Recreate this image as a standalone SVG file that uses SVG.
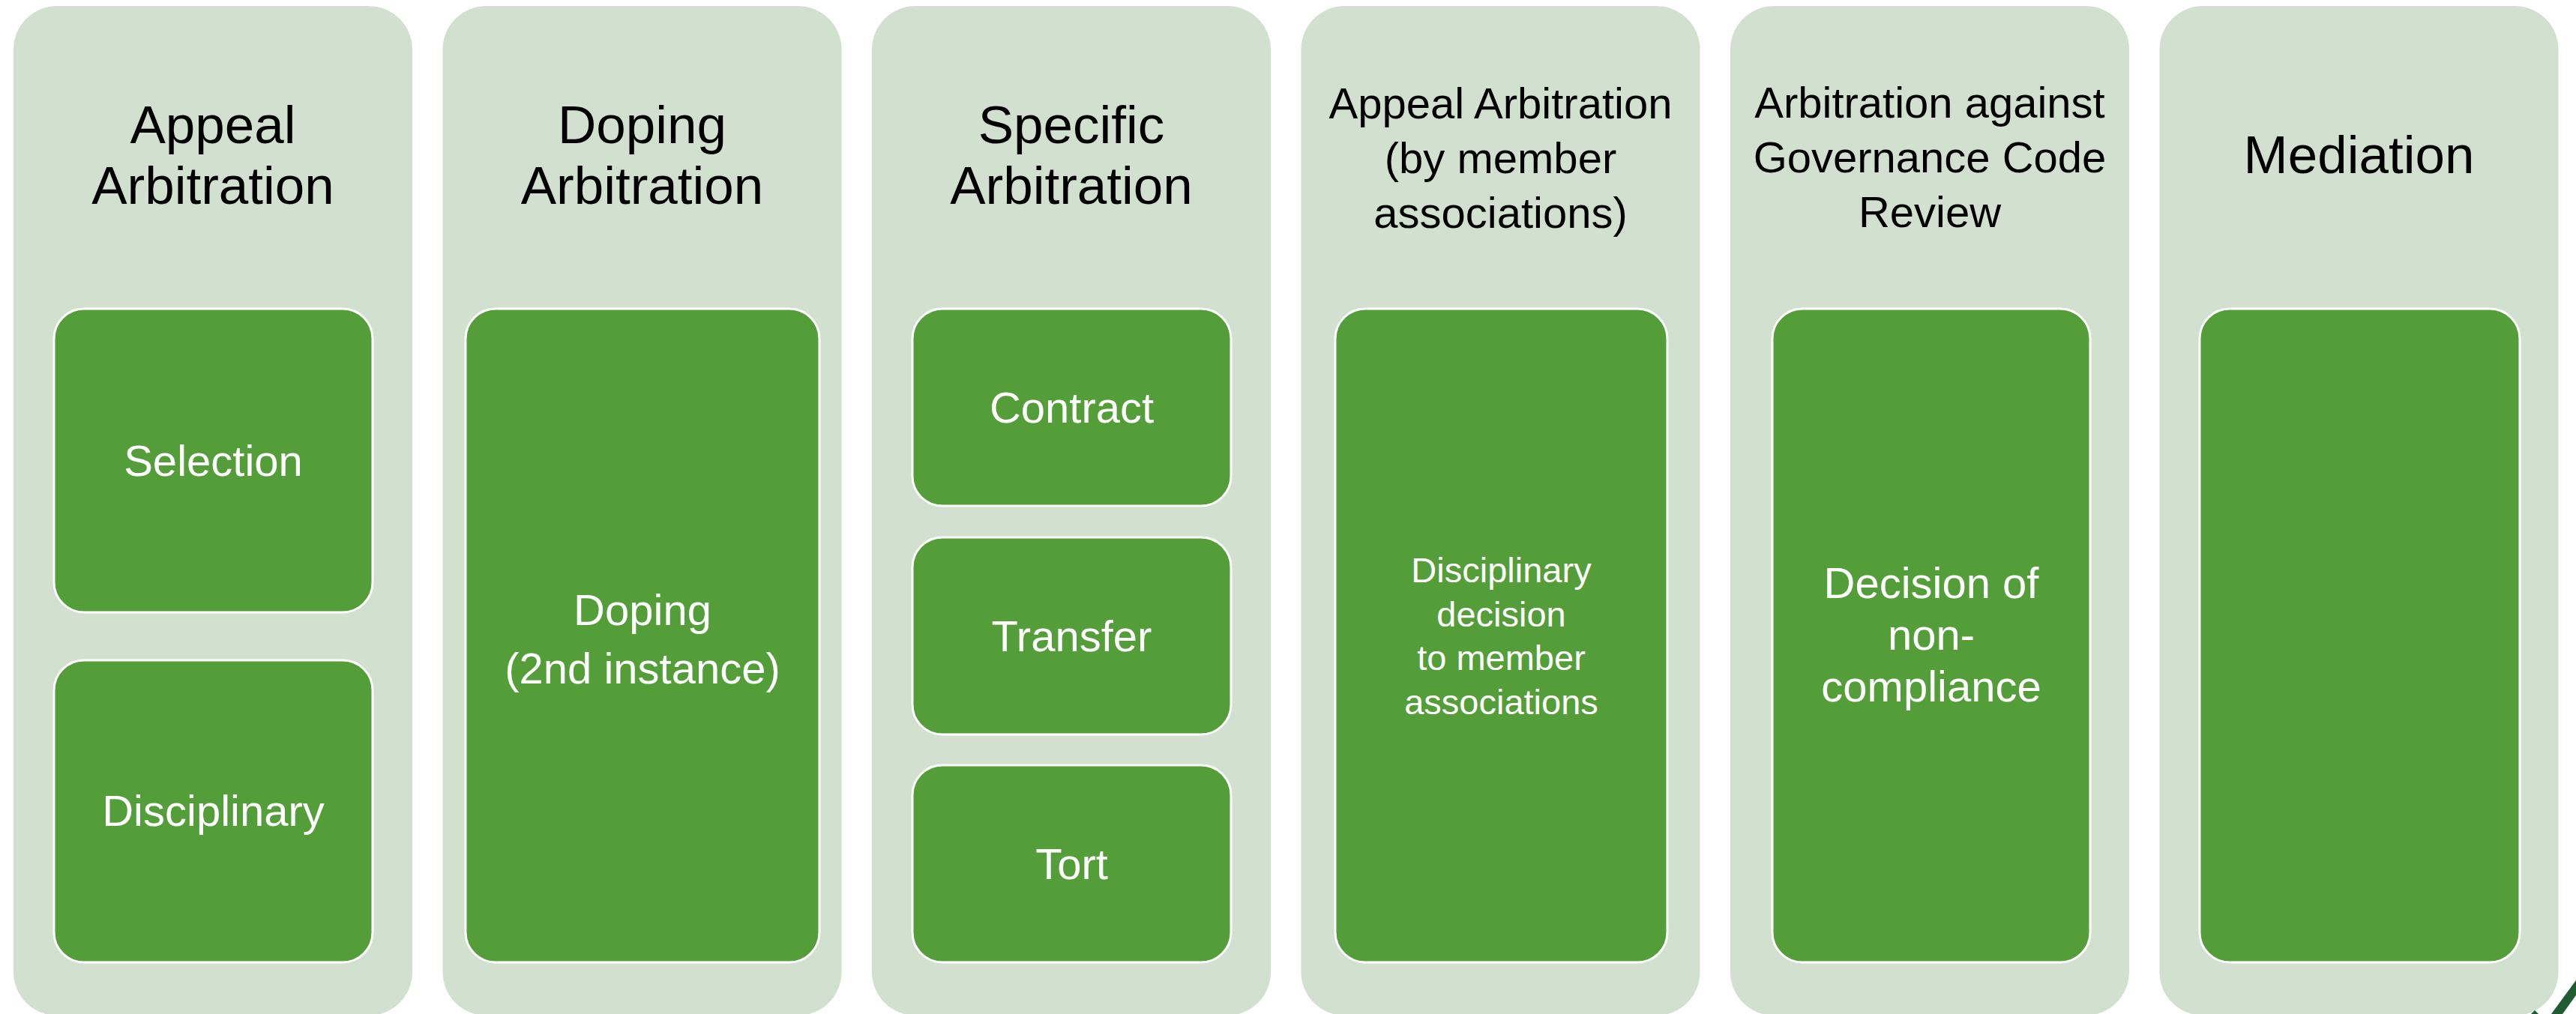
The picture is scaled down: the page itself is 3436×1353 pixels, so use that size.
<svg xmlns="http://www.w3.org/2000/svg" width="3436" height="1353" viewBox="0 0 3436 1353">
<style>
.outer{fill:#D2E0CF;}
.inner{fill:#549E39;stroke:#FFFFFF;stroke-width:3;}
.title{font-family:"Liberation Sans",Arial,sans-serif;fill:#000000;text-anchor:middle;}
.t71{font-size:71px;}
.t58{font-size:58px;}
.lbl{font-family:"Liberation Sans",Arial,sans-serif;fill:#FFFFFF;text-anchor:middle;font-size:58px;}
.lbl47{font-size:47px;}
</style>
<rect x="0" y="0" width="3436" height="1353" fill="#FFFFFF"/>

<g id="col-appeal">
<rect class="outer" x="18" y="8" width="532" height="1347" rx="58" ry="58"/>
<text class="title t71" x="284" y="191">Appeal</text>
<text class="title t71" x="284" y="272">Arbitration</text>
</g>
<g id="node-selection">
<rect class="inner" x="72" y="412" width="425" height="405" rx="40" ry="40"/>
<text class="lbl" x="284.5" y="635">Selection</text>
</g>
<g id="node-disciplinary">
<rect class="inner" x="72" y="881" width="425" height="403" rx="40" ry="40"/>
<text class="lbl" x="284.5" y="1102">Disciplinary</text>
</g>

<g id="col-doping">
<rect class="outer" x="590.5" y="8" width="532" height="1347" rx="58" ry="58"/>
<text class="title t71" x="856.5" y="191">Doping</text>
<text class="title t71" x="856.5" y="272">Arbitration</text>
</g>
<g id="node-doping">
<rect class="inner" x="621" y="412" width="472" height="872" rx="40" ry="40"/>
<text class="lbl" x="857" y="834">Doping</text>
<text class="lbl" x="857" y="912">(2nd instance)</text>
</g>

<g id="col-specific">
<rect class="outer" x="1163" y="8" width="532" height="1347" rx="58" ry="58"/>
<text class="title t71" x="1429" y="191">Specific</text>
<text class="title t71" x="1429" y="272">Arbitration</text>
</g>
<g id="node-contract">
<rect class="inner" x="1217" y="412" width="425" height="263" rx="40" ry="40"/>
<text class="lbl" x="1429.5" y="564">Contract</text>
</g>
<g id="node-transfer">
<rect class="inner" x="1217" y="717" width="425" height="263" rx="40" ry="40"/>
<text class="lbl" x="1429.5" y="869">Transfer</text>
</g>
<g id="node-tort">
<rect class="inner" x="1217" y="1021" width="425" height="263" rx="40" ry="40"/>
<text class="lbl" x="1429.5" y="1173">Tort</text>
</g>

<g id="col-appeal-members">
<rect class="outer" x="1735.5" y="8" width="532" height="1347" rx="58" ry="58"/>
<text class="title t58" x="2001.5" y="158">Appeal Arbitration</text>
<text class="title t58" x="2001.5" y="231">(by member</text>
<text class="title t58" x="2001.5" y="304">associations)</text>
</g>
<g id="node-disciplinary-decision">
<rect class="inner" x="1781" y="412" width="443" height="872" rx="40" ry="40"/>
<text class="lbl lbl47" x="2002.5" y="777">Disciplinary</text>
<text class="lbl lbl47" x="2002.5" y="836">decision</text>
<text class="lbl lbl47" x="2002.5" y="894">to member</text>
<text class="lbl lbl47" x="2002.5" y="953">associations</text>
</g>

<g id="col-governance">
<rect class="outer" x="2308" y="8" width="532" height="1347" rx="58" ry="58"/>
<text class="title t58" x="2574" y="157">Arbitration against</text>
<text class="title t58" x="2574" y="230">Governance Code</text>
<text class="title t58" x="2574" y="303">Review</text>
</g>
<g id="node-non-compliance">
<rect class="inner" x="2364" y="412" width="424" height="872" rx="40" ry="40"/>
<text class="lbl" x="2576" y="798">Decision of</text>
<text class="lbl" x="2576" y="867">non-</text>
<text class="lbl" x="2576" y="936">compliance</text>
</g>

<g id="col-mediation">
<rect class="outer" x="2880.5" y="8" width="532" height="1347" rx="58" ry="58"/>
<text class="title t71" x="3146.5" y="231">Mediation</text>
</g>
<g id="node-mediation">
<rect class="inner" x="2934" y="412" width="427" height="872" rx="40" ry="40"/>
</g>

<g id="connectors"></g>

<g id="logo-fragment">
<polygon points="3403,1353 3436,1308 3436,1328 3418,1353" fill="#1F5C32"/>
<polygon points="3376,1353 3381,1348 3386,1353" fill="#1F5C32"/>
</g>
</svg>
